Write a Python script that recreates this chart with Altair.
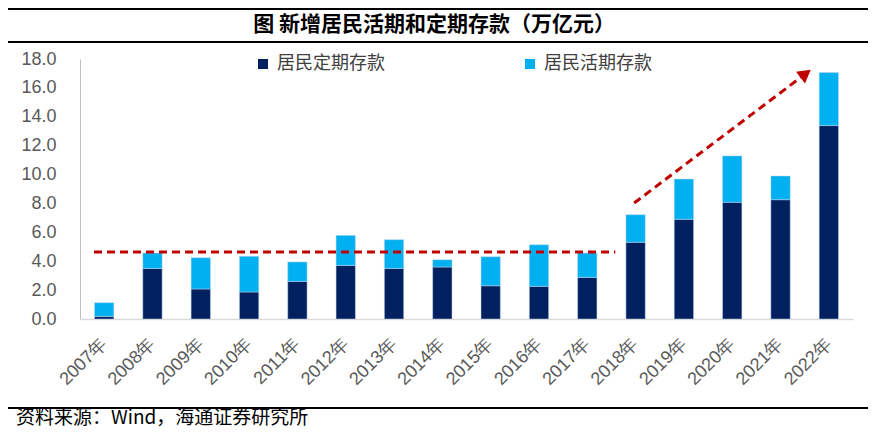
import altair as alt
import pandas as pd

years = ["2007年", "2008年", "2009年", "2010年", "2011年", "2012年", "2013年", "2014年",
         "2015年", "2016年", "2017年", "2018年", "2019年", "2020年", "2021年", "2022年"]
fixed = [0.18, 3.50, 2.08, 1.87, 2.60, 3.71, 3.50, 3.60, 2.30, 2.26, 2.88, 5.31, 6.90, 8.08, 8.26, 13.39]
total = [1.13, 4.57, 4.24, 4.34, 3.95, 5.79, 5.49, 4.10, 4.31, 5.14, 4.57, 7.22, 9.69, 11.29, 9.90, 17.06]
demand = [round(t - f, 2) for t, f in zip(total, fixed)]

series = ["居民定期存款", "居民活期存款"]
colors = ["#002060", "#00B0F0"]

title_text = ["图  新增居民活期和定期存款（万亿元）"]
source_text = ["资料来源：Wind，海通证券研究所"]

# annotation lines (in band units: band i spans i..i+1)
flat_x = [0.29]
flat_x2 = [11.08]
flat_y = [4.64]
arrow_x = [11.47]
arrow_x2 = [14.92]
arrow_y = [8.03]
arrow_y2 = [16.73]
head_x = [15.02]
head_y = [16.98]

rows = []
for i, y in enumerate(years):
    rows.append({"year": y, "series": series[0], "value": fixed[i], "ord": 0})
    rows.append({"year": y, "series": series[1], "value": demand[i], "ord": 1})
df = pd.DataFrame(rows)

FONT_CJK = "Noto Sans CJK SC"
FONT_NUM = "Liberation Sans"

bars = alt.Chart(df).mark_bar(stroke="#bdd7ee", strokeWidth=0.5).encode(
    x=alt.X("year:N", sort=years, title=None,
            scale=alt.Scale(paddingInner=0.6, paddingOuter=0.3),
            axis=alt.Axis(labelAngle=-45, labelFontSize=18, labelFont=FONT_NUM,
                          labelColor="#595959", ticks=False, labelPadding=22,
                          domainColor="#d9d9d9", domainWidth=1.5, labelAlign="right",
                          labelBaseline="middle")),
    y=alt.Y("value:Q", stack="zero", title=None,
            scale=alt.Scale(domain=[0, 18], nice=False),
            axis=alt.Axis(values=list(range(0, 19, 2)), format=".1f", grid=False,
                          ticks=False, labelFontSize=18, labelFont=FONT_NUM,
                          labelColor="#595959", labelPadding=24,
                          domainColor="#bfbfbf", domainWidth=1)),
    color=alt.Color("series:N", scale=alt.Scale(domain=series, range=colors),
                    legend=alt.Legend(title=None, orient="none", direction="horizontal",
                                      legendX=174, legendY=-4, symbolType="square",
                                      symbolSize=100, symbolStrokeWidth=0,
                                      labelFontSize=18, labelFont=FONT_CJK,
                                      labelColor="#404040", columnPadding=136,
                                      labelOffset=5)),
    order=alt.Order("ord:Q"),
)

qx = alt.Scale(domain=[0, 16], nice=False, zero=False)
qy = alt.Scale(domain=[0, 18], nice=False)

flat = alt.Chart(pd.DataFrame({"x": flat_x, "x2": flat_x2, "y": flat_y})).mark_rule(
    color="#C00000", strokeWidth=3, strokeDash=[8, 5]).encode(
    x=alt.X("x:Q", scale=qx, axis=None), x2="x2:Q",
    y=alt.Y("y:Q", scale=qy, axis=None))

arrow = alt.Chart(pd.DataFrame({"x": arrow_x, "x2": arrow_x2, "y": arrow_y, "y2": arrow_y2})).mark_rule(
    color="#C00000", strokeWidth=3, strokeDash=[8, 5]).encode(
    x=alt.X("x:Q", scale=qx, axis=None), x2="x2:Q",
    y=alt.Y("y:Q", scale=qy, axis=None), y2="y2:Q")

head = alt.Chart(pd.DataFrame({"x": head_x, "y": head_y})).mark_point(
    shape="triangle-up", filled=True, color="#C00000", size=220, angle=53, opacity=1).encode(
    x=alt.X("x:Q", scale=qx, axis=None),
    y=alt.Y("y:Q", scale=qy, axis=None))

one = pd.DataFrame({"a": [0]})
line_top = alt.Chart(one).mark_rule(color="black", strokeWidth=2).encode(
    x=alt.value(-72), x2=alt.value(788), y=alt.value(-50))
line_mid = alt.Chart(one).mark_rule(color="black", strokeWidth=2).encode(
    x=alt.value(-72), x2=alt.value(788), y=alt.value(-17))
line_bot = alt.Chart(one).mark_rule(color="black", strokeWidth=2).encode(
    x=alt.value(-72), x2=alt.value(788), y=alt.value(349))
title = alt.Chart(pd.DataFrame({"t": title_text})).mark_text(
    align="center", baseline="middle", fontSize=21, fontWeight="bold", font=FONT_CJK,
    color="black").encode(text="t:N", x=alt.value(354), y=alt.value(-34))
source = alt.Chart(pd.DataFrame({"t": source_text})).mark_text(
    align="left", baseline="middle", fontSize=19, font=FONT_CJK, color="black").encode(
    text="t:N", x=alt.value(-64), y=alt.value(359))

chart = alt.layer(bars, flat, arrow, head, line_top, line_mid, line_bot, title, source).resolve_scale(
    x="independent", y="independent"
).properties(
    width=773, height=260,
    autosize=alt.AutoSizeParams(type="none"),
    padding={"left": 72, "top": 51, "right": 15, "bottom": 109},
).configure_view(stroke=None)

chart.save("out.html", embed_options={"renderer": "svg", "actions": False})
